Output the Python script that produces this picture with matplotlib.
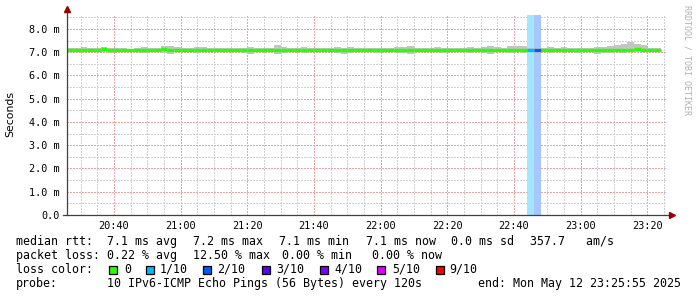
"""
Smokeping-style latency chart (3 hours of IPv6 ping medians with smoke).
"""

import matplotlib
matplotlib.use("Agg")
import matplotlib.pyplot as plt
import numpy as np
from matplotlib.patches import Rectangle

# ---- data ----------------------------------------------------------------
START_MIN = 20 * 60 + 24          # first 2-minute step starts at 20:24
STEP_MIN = 2
X_MIN, X_MAX = 1225.92, 1405.92    # 20:25:55 .. 23:25:55

median_ms = [
    7.10, 7.10, 7.11, 7.10, 7.11, 7.10, 7.12, 7.11, 7.10, 7.11, 7.09, 7.10, 7.10, 7.09, 7.10, 7.12, 7.11, 7.10,
    7.09, 7.09, 7.10, 7.11, 7.10, 7.10, 7.10, 7.11, 7.09, 7.10, 7.10, 7.10, 7.08, 7.10, 7.10, 7.09, 7.10, 7.10, 7.11, 7.10,
    7.11, 7.10, 7.09, 7.10, 7.10, 7.11, 7.10, 7.10, 7.09, 7.10, 7.10, 7.09, 7.10, 7.10, 7.11, 7.10, 7.08, 7.10, 7.09, 7.10,
    7.10, 7.11, 7.10, 7.10, 7.09, 7.10, 7.11, 7.10, 7.10, 7.11, 7.10, 7.11, 7.10, 7.10, 7.10, 7.10, 7.10, 7.11, 7.10, 7.11,
    7.10, 7.10, 7.11, 7.10, 7.10, 7.09, 7.10, 7.11, 7.12, 7.10, 7.10, 7.10,
]
smoke_hi_ms = [
    7.19, 7.18, 7.20, 7.22, 7.20, 7.18, 7.21, 7.19, 7.18, 7.16, 7.15, 7.18, 7.21, 7.20, 7.19, 7.26, 7.27, 7.23,
    7.18, 7.17, 7.24, 7.21, 7.19, 7.16, 7.17, 7.18, 7.16, 7.20, 7.24, 7.17, 7.18, 7.19, 7.30, 7.21, 7.19, 7.18, 7.21, 7.18,
    7.20, 7.18, 7.17, 7.21, 7.19, 7.23, 7.18, 7.19, 7.17, 7.20, 7.19, 7.18, 7.24, 7.22, 7.27, 7.19, 7.17, 7.18, 7.21, 7.19,
    7.18, 7.20, 7.19, 7.23, 7.18, 7.24, 7.26, 7.21, 7.19, 7.25, 7.26, 7.27, 7.19, 7.21, 7.20, 7.23, 7.19, 7.21, 7.18, 7.20,
    7.20, 7.19, 7.24, 7.21, 7.25, 7.31, 7.34, 7.44, 7.34, 7.29, 7.20, 7.18,
]
smoke_lo_ms = [
    7.02, 7.03, 7.02, 7.00, 6.99, 7.02, 7.00, 6.98, 7.01, 7.02, 7.03, 7.01, 6.98, 6.99, 7.02, 6.96, 6.94, 6.99,
    7.01, 7.02, 6.96, 6.99, 7.01, 7.03, 7.02, 7.01, 7.02, 6.98, 6.94, 7.02, 6.99, 7.01, 6.94, 6.98, 6.99, 7.01, 6.98, 7.02,
    6.99, 7.02, 6.99, 6.98, 6.92, 6.96, 7.01, 6.99, 7.02, 6.98, 7.01, 7.02, 6.95, 6.97, 6.93, 7.01, 7.02, 7.01, 6.99, 6.98,
    7.02, 6.99, 7.01, 6.96, 7.02, 6.98, 6.94, 6.99, 7.01, 6.97, 6.99, 6.98, 7.01, 6.98, 6.99, 6.97, 7.01, 6.99, 7.01, 6.98,
    6.99, 7.01, 6.94, 6.98, 6.96, 6.99, 6.95, 7.01, 7.02, 6.99, 7.01, 6.99,
]
# lost pings out of 10, per step
loss_tenths = [0] * 90
loss_tenths[70] = 1
loss_tenths[71] = 2

x_tick_min = [1240, 1260, 1280, 1300, 1320, 1340, 1360, 1380, 1400]
x_tick_labels = ["20:40", "21:00", "21:20", "21:40", "22:00", "22:20", "22:40", "23:00", "23:20"]
y_ticks = [0, 1, 2, 3, 4, 5, 6, 7, 8]
y_tick_labels = ["0.0", "1.0 m", "2.0 m", "3.0 m", "4.0 m", "5.0 m", "6.0 m", "7.0 m", "8.0 m"]

loss_levels = ["0", "1/10", "2/10", "3/10", "4/10", "5/10", "9/10"]
loss_colors = ["#26ff00", "#00b8ff", "#0059ff", "#5e00ff", "#7e00ff", "#dd00ff", "#ff0000"]
loss_bg = {1: "#a4e6ff", 2: "#a8c6ff"}

# ---- figure --------------------------------------------------------------
W, H = 697, 297
MONO = "DejaVu Sans Mono"
fig = plt.figure(figsize=(W / 100, H / 100), dpi=100)
fig.patch.set_facecolor("white")
ax = fig.add_axes([67 / W, 82 / H, 600 / W, 200 / H])
ax.set_xlim(X_MIN, X_MAX)
ax.set_ylim(0, 8.6)

t = START_MIN + STEP_MIN * np.arange(len(median_ms))
med = np.array(median_ms)
hi = np.array(smoke_hi_ms)
lo = np.array(smoke_lo_ms)
loss = np.array(loss_tenths)

# grid (dotted, minor grey / major pink), crisp 1px dots
ax.set_xticks(x_tick_min)
ax.set_xticks(np.arange(1230, 1406, 5), minor=True)
ax.set_yticks(y_ticks)
ax.set_yticks(np.arange(0.5, 8.6, 0.5), minor=True)
ax.grid(which="minor", color="#d0d0d0", lw=0.72, linestyle=(0, (1.4, 1.4)), antialiased=False)
ax.grid(which="major", color="#eaa6a6", lw=0.72, linestyle=(0, (1.4, 1.4)), antialiased=False)
ax.set_axisbelow(True)

# loss background bars
for ti, lv in zip(t, loss):
    if lv > 0:
        ax.axvspan(ti, ti + STEP_MIN, color=loss_bg[lv], lw=0, zorder=1)

# smoke
ax.bar(t, hi - lo, bottom=lo, width=STEP_MIN, align="edge", color="#c4c4c4", lw=0, zorder=2)

# median line, coloured by loss
seg_colors = [loss_colors[lv] for lv in loss]
ax.hlines(med, t, t + STEP_MIN, colors=seg_colors, lw=2.4, zorder=3)

# axes cosmetics
for s in ["top", "right", "left", "bottom"]:
    ax.spines[s].set_visible(False)
ax.set_xticklabels(x_tick_labels, fontfamily=MONO, fontsize=7.4)
ax.set_yticklabels(y_tick_labels, fontfamily=MONO, fontsize=7.3)
ax.tick_params(which="both", length=0)
ax.tick_params(axis="x", pad=4)
ax.tick_params(axis="y", pad=5)

ax.plot([0, 0], [0, 1.03], transform=ax.transAxes, color="#404040", lw=0.9, clip_on=False, zorder=5)
ax.plot([-0.007, 1.008], [0, 0], transform=ax.transAxes, color="#404040", lw=0.9, clip_on=False, zorder=5)
ax.plot([0], [1.03], transform=ax.transAxes, marker="^", ms=4, color="#990000", clip_on=False, zorder=6)
ax.plot([1.009], [0], transform=ax.transAxes, marker=">", ms=4, color="#990000", clip_on=False, zorder=6)

fig.text(10 / W, 1 - 114 / H, "Seconds", rotation=90, ha="center", va="center",
         fontsize=7.8, fontfamily="DejaVu Sans")
fig.text(687 / W, 1 - 5 / H, "RRDTOOL / TOBI OETIKER", rotation=270, ha="center", va="top",
         fontsize=6, fontfamily=MONO, color="#b0b0b0")

# ---- legend --------------------------------------------------------------
LFS = 8.35


def ltext(x, y, s):
    fig.text(x / W, 1 - y / H, s, ha="left", va="center", fontsize=LFS, fontfamily=MONO, color="black")


row1 = [(16, "median rtt:"), (107, "7.1 ms avg"), (193, "7.2 ms max"), (279, "7.1 ms min"),
        (366, "7.1 ms now"), (451, "0.0 ms sd"), (530, "357.7   am/s")]
row2 = [(16, "packet loss:"), (107, "0.22 % avg"), (193, "12.50 % max"), (282, "0.00 % min"),
        (372, "0.00 % now")]
for x, s in row1:
    ltext(x, 241.5, s)
for x, s in row2:
    ltext(x, 255.3, s)

ltext(16, 269.3, "loss color:")
box_x = [109, 146, 203, 262, 320, 377, 436]
txt_x = [124, 160, 217, 276, 334, 392, 449]
for bx, tx, lab, col in zip(box_x, txt_x, loss_levels, loss_colors):
    fig.add_artist(Rectangle((bx / W, 1 - 273.5 / H), 8 / W, 8 / H, transform=fig.transFigure,
                             facecolor=col, edgecolor="black", lw=0.9))
    ltext(tx, 269.3, lab)

ltext(16, 283.3, "probe:")
ltext(107, 283.3, "10 IPv6-ICMP Echo Pings (56 Bytes) every 120s")
ltext(478, 283.3, "end: Mon May 12 23:25:55 2025")

fig.savefig("out.png", dpi=100, facecolor="white")
